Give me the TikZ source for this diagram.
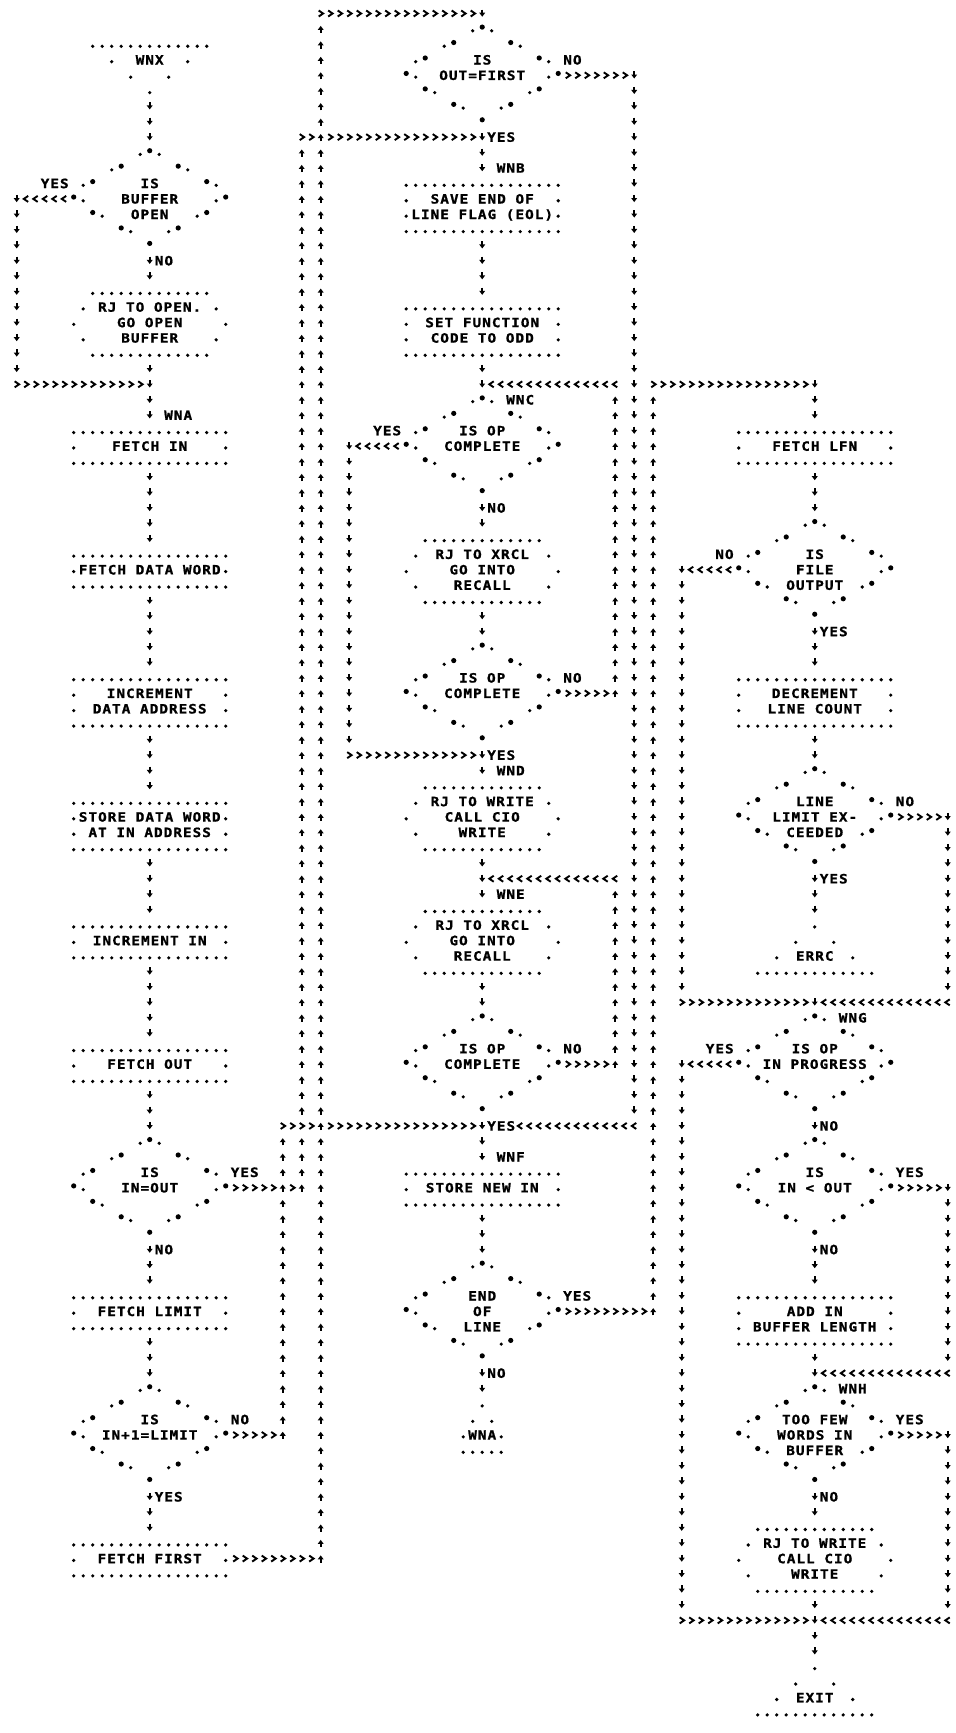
\documentclass[tikz,border=0pt]{standalone}
\usepackage{fontspec}
\newfontfamily\prt[FakeStretch=1.12,LetterSpace=8,FakeBold=1.2]{DejaVu Sans Mono}
\usetikzlibrary{decorations.markings}

\newcommand\fcPd[2]{\fill ({#1},{#2+0.12}) circle (0.9pt);}
\newcommand\fcSd[2]{\fill ({#1},{#2-0.12}) circle (1.3pt);}
\newcommand\fcVg{\fill (1.6pt,0pt) -- (-0.4pt,1.5pt) -- (-0.4pt,-1.5pt) -- cycle; \draw[line width=0.9pt] (-2.0pt,0pt) -- (0pt,0pt);}
\newcommand\fcHg{\draw[line width=0.95pt] (-1.0pt,1.5pt) -- (1.2pt,0pt) -- (-1.0pt,-1.5pt);}

% diamond: name, centre col, top row
\newcommand\fcDia[3]{%
 \node[shp, minimum width=76pt, minimum height=46.35pt] (#1) at ({#2},{#3+3}) {};
 \fcPd{#2-1}{#3}\fcSd{#2}{#3}\fcPd{#2+1}{#3}
 \fcPd{#2-4}{#3+1}\fcSd{#2-3}{#3+1}\fcSd{#2+3}{#3+1}\fcPd{#2+4}{#3+1}
 \fcPd{#2-7}{#3+2}\fcSd{#2-6}{#3+2}\fcSd{#2+6}{#3+2}\fcPd{#2+7}{#3+2}
 \fcSd{#2-8}{#3+3}\fcPd{#2-7}{#3+3}\fcPd{#2+7}{#3+3}\fcSd{#2+8}{#3+3}
 \fcSd{#2-6}{#3+4}\fcPd{#2-5}{#3+4}\fcPd{#2+5}{#3+4}\fcSd{#2+6}{#3+4}
 \fcSd{#2-3}{#3+5}\fcPd{#2-2}{#3+5}\fcPd{#2+2}{#3+5}\fcSd{#2+3}{#3+5}
 \fcSd{#2}{#3+6}}
% box: name, centre col, top row, height in rows
\newcommand\fcBox[4]{%
 \node[shp, minimum width=76pt, minimum height={#4*7.725pt}] (#1) at ({#2},{#3+#4/2}) {};
 \foreach \i in {-8,...,8}{\fcPd{#2+\i}{#3}\fcPd{#2+\i}{#3+#4}}
 \pgfmathtruncatemacro\fcbh{#4-1}
 \foreach \j in {1,...,\fcbh}{\fcPd{#2-8}{#3+\j}\fcPd{#2+8}{#3+\j}}}
% hexagon (subroutine call): name, centre col, top row
\newcommand\fcHex[3]{%
 \node[shp, minimum width=76pt, minimum height=30.9pt] (#1) at ({#2},{#3+2}) {};
 \foreach \i in {-6,...,6}{\fcPd{#2+\i}{#3}\fcPd{#2+\i}{#3+4}}
 \fcPd{#2-7}{#3+1}\fcPd{#2+7}{#3+1}\fcPd{#2-8}{#3+2}\fcPd{#2+8}{#3+2}\fcPd{#2-7}{#3+3}\fcPd{#2+7}{#3+3}}
% entry triangle (base on top)
\newcommand\fcTdn[3]{%
 \node[shp, minimum width=57pt, minimum height=23.175pt] (#1) at ({#2},{#3+1.5}) {};
 \foreach \i in {-6,...,6}{\fcPd{#2+\i}{#3}}
 \fcPd{#2-4}{#3+1}\fcPd{#2+4}{#3+1}\fcPd{#2-2}{#3+2}\fcPd{#2+2}{#3+2}\fcPd{#2}{#3+3}}
% exit triangle (apex on top)
\newcommand\fcTup[3]{%
 \node[shp, minimum width=57pt, minimum height=23.175pt] (#1) at ({#2},{#3+1.5}) {};
 \fcPd{#2}{#3}\fcPd{#2-2}{#3+1}\fcPd{#2+2}{#3+1}\fcPd{#2-4}{#3+2}\fcPd{#2+4}{#3+2}
 \foreach \i in {-6,...,6}{\fcPd{#2+\i}{#3+3}}}
% small exit triangle
\newcommand\fcTsm[3]{%
 \node[shp, minimum width=19pt, minimum height=23.175pt] (#1) at ({#2},{#3+1.5}) {};
 \fcPd{#2}{#3}\fcPd{#2-1}{#3+1}\fcPd{#2+1}{#3+1}\fcPd{#2-2}{#3+2}\fcPd{#2+2}{#3+2}
 \foreach \i in {-2,...,2}{\fcPd{#2+\i}{#3+3}}}

\tikzset{
 shp/.style={rectangle, inner sep=0pt, outer sep=0pt, draw=none},
 txt/.style={font=\prt\bfseries\fontsize{6.4pt}{7.7pt}\selectfont, inner sep=0pt, text height=4.65pt, text depth=0pt, anchor=center},
 vch/.style 2 args={decorate, decoration={markings, mark=between positions #1 and #2 step 7.724pt with {\fcVg}}},
 hch/.style 2 args={decorate, decoration={markings, mark=between positions #1 and #2 step 4.7495pt with {\fcHg}}},
 cv0/.style={vch={0pt}{-3pt}},
 cv1/.style={vch={7.724pt}{-3pt}},
 ch0/.style={hch={0pt}{-2pt}},
 ch1/.style={hch={4.7495pt}{-2pt}},
}

\begin{document}
\begin{tikzpicture}[x=4.75pt, y=-7.725pt]
\fill[white] (-1.758,-0.874) rectangle (98.77,111.29);
\useasboundingbox (-1.758,-0.874) rectangle (98.77,111.29);

% ================= LEFT COLUMN =================
\fcTdn{tWNX}{14}{2}
\node[txt] (xWNX) at (14,3) {WNX};
\fcDia{d1}{14}{9}
\node[txt] (x1a) at (14,11) {IS};
\node[txt] (x1b) at (14,12) {BUFFER};
\node[txt] (x1c) at (14,13) {OPEN};
\fcHex{h1}{14}{18}
\node[txt] (x2a) at (14,19) {RJ TO OPEN.};
\node[txt] (x2b) at (14,20) {GO OPEN};
\node[txt] (x2c) at (14,21) {BUFFER};
\fcBox{b2}{14}{27}{2}
\node[txt] (x3) at (14,28) {FETCH IN};
\fcBox{b3}{14}{35}{2}
\node[txt] (x4) at (14,36) {FETCH DATA WORD};
\fcBox{b4}{14}{43}{3}
\node[txt] (x5a) at (14,44) {INCREMENT};
\node[txt] (x5b) at (14,45) {DATA ADDRESS};
\fcBox{b5}{14}{51}{3}
\node[txt] (x6a) at (14,52) {STORE DATA WORD};
\node[txt] (x6b) at (14,53) {AT IN ADDRESS};
\fcBox{b6}{14}{59}{2}
\node[txt] (x7) at (14,60) {INCREMENT IN};
\fcBox{b7}{14}{67}{2}
\node[txt] (x8) at (14,68) {FETCH OUT};
\fcDia{d2}{14}{73}
\node[txt] (x9a) at (14,75) {IS};
\node[txt] (x9b) at (14,76) {IN=OUT};
\fcBox{b8}{14}{83}{2}
\node[txt] (x10) at (14,84) {FETCH LIMIT};
\fcDia{d3}{14}{89}
\node[txt] (x11a) at (14,91) {IS};
\node[txt] (x11b) at (14,92) {IN+1=LIMIT};
\fcBox{b9}{14}{99}{2}
\node[txt] (x12) at (14,100) {FETCH FIRST};

% ================= MIDDLE COLUMN =================
\fcDia{d4}{49}{1}
\node[txt] (x13a) at (49,3) {IS};
\node[txt] (x13b) at (49,4) {OUT=FIRST};
\fcBox{b10}{49}{11}{3}
\node[txt] (x14a) at (49,12) {SAVE END OF};
\node[txt] (x14b) at (49,13) {LINE FLAG (EOL)};
\fcBox{b11}{49}{19}{3}
\node[txt] (x15a) at (49,20) {SET FUNCTION};
\node[txt] (x15b) at (49,21) {CODE TO ODD};
\fcDia{d5}{49}{25}
\node[txt] (x16a) at (49,27) {IS OP};
\node[txt] (x16b) at (49,28) {COMPLETE};
\fcHex{h2}{49}{34}
\node[txt] (x17a) at (49,35) {RJ TO XRCL};
\node[txt] (x17b) at (49,36) {GO INTO};
\node[txt] (x17c) at (49,37) {RECALL};
\fcDia{d6}{49}{41}
\node[txt] (x18a) at (49,43) {IS OP};
\node[txt] (x18b) at (49,44) {COMPLETE};
\fcHex{h3}{49}{50}
\node[txt] (x19a) at (49,51) {RJ TO WRITE};
\node[txt] (x19b) at (49,52) {CALL CIO};
\node[txt] (x19c) at (49,53) {WRITE};
\fcHex{h4}{49}{58}
\node[txt] (x20a) at (49,59) {RJ TO XRCL};
\node[txt] (x20b) at (49,60) {GO INTO};
\node[txt] (x20c) at (49,61) {RECALL};
\fcDia{d7}{49}{65}
\node[txt] (x21a) at (49,67) {IS OP};
\node[txt] (x21b) at (49,68) {COMPLETE};
\fcBox{b12}{49}{75}{2}
\node[txt] (x22) at (49,76) {STORE NEW IN};
\fcDia{d8}{49}{81}
\node[txt] (x23a) at (49,83) {END};
\node[txt] (x23b) at (49,84) {OF};
\node[txt] (x23c) at (49,85) {LINE};
\fcTsm{tWNA}{49}{90}
\node[txt] (xWNA) at (49,92) {WNA};

% ================= RIGHT COLUMN =================
\fcBox{b13}{84}{27}{2}
\node[txt] (x24) at (84,28) {FETCH LFN};
\fcDia{d9}{84}{33}
\node[txt] (x25a) at (84,35) {IS};
\node[txt] (x25b) at (84,36) {FILE};
\node[txt] (x25c) at (84,37) {OUTPUT};
\fcBox{b14}{84}{43}{3}
\node[txt] (x26a) at (84,44) {DECREMENT};
\node[txt] (x26b) at (84,45) {LINE COUNT};
\fcDia{d10}{84}{49}
\node[txt] (x27a) at (84,51) {LINE};
\node[txt] (x27b) at (84,52) {LIMIT EX-};
\node[txt] (x27c) at (84,53) {CEEDED};
\fcTup{tERRC}{84}{59}
\node[txt] (xERRC) at (84,61) {ERRC};
\fcDia{d11}{84}{65}
\node[txt] (x28a) at (84,67) {IS OP};
\node[txt] (x28b) at (84,68) {IN PROGRESS};
\fcDia{d12}{84}{73}
\node[txt] (x29a) at (84,75) {IS};
\node[txt] (x29b) at (84,76) {IN < OUT};
\fcBox{b15}{84}{83}{3}
\node[txt] (x30a) at (84,84) {ADD IN};
\node[txt] (x30b) at (84,85) {BUFFER LENGTH};
\fcDia{d13}{84}{89}
\node[txt] (x31a) at (84,91) {TOO FEW};
\node[txt] (x31b) at (84,92) {WORDS IN};
\node[txt] (x31c) at (84,93) {BUFFER};
\fcHex{h5}{84}{98}
\node[txt] (x32a) at (84,99) {RJ TO WRITE};
\node[txt] (x32b) at (84,100) {CALL CIO};
\node[txt] (x32c) at (84,101) {WRITE};
\fcTup{tEXIT}{84}{107}
\node[txt] (xEXIT) at (84,109) {EXIT};

% ================= LABELS =================
\node[txt] (l1) at (4,11) {YES};
\node[txt] (l2) at (15.5,16) {NO};
\node[txt] (l3) at (17,26) {WNA};
\node[txt] (l4) at (24,75) {YES};
\node[txt] (l5) at (15.5,80) {NO};
\node[txt] (l6) at (23.5,91) {NO};
\node[txt] (l7) at (16,96) {YES};
\node[txt] (l8) at (58.5,3) {NO};
\node[txt] (l9) at (51,8) {YES};
\node[txt] (l10) at (52,10) {WNB};
\node[txt] (l11) at (53,25) {WNC};
\node[txt] (l12) at (39,27) {YES};
\node[txt] (l13) at (50.5,32) {NO};
\node[txt] (l14) at (58.5,43) {NO};
\node[txt] (l15) at (51,48) {YES};
\node[txt] (l16) at (52,49) {WND};
\node[txt] (l17) at (52,57) {WNE};
\node[txt] (l18) at (58.5,67) {NO};
\node[txt] (l19) at (51,72) {YES};
\node[txt] (l20) at (52,74) {WNF};
\node[txt] (l21) at (59,83) {YES};
\node[txt] (l22) at (50.5,88) {NO};
\node[txt] (l23) at (74.5,35) {NO};
\node[txt] (l24) at (86,40) {YES};
\node[txt] (l25) at (93.5,51) {NO};
\node[txt] (l26) at (86,56) {YES};
\node[txt] (l27) at (88,65) {WNG};
\node[txt] (l28) at (74,67) {YES};
\node[txt] (l29) at (85.5,72) {NO};
\node[txt] (l30) at (94,75) {YES};
\node[txt] (l31) at (85.5,80) {NO};
\node[txt] (l32) at (88,89) {WNH};
\node[txt] (l33) at (94,91) {YES};
\node[txt] (l34) at (85.5,96) {NO};

% ================= CONNECTORS: LEFT =================
\path[cv1] (tWNX.south) -- (d1.north);
\coordinate (k1) at (0,12); \coordinate (k2) at (0,24); \coordinate (k3) at (14,24);
\path[ch1] (d1.west) -- (k1);
\path[cv0] (k1) -- (k2);
\path[ch0] (k2) -- (k3);
\path[cv1] (d1.south) -- (h1.north);
\path[cv1] (h1.south) -- (b2.north);
\path[cv1] (b2.south) -- (b3.north);
\path[cv1] (b3.south) -- (b4.north);
\path[cv1] (b4.south) -- (b5.north);
\path[cv1] (b5.south) -- (b6.north);
\path[cv1] (b6.south) -- (b7.north);
\path[cv1] (b7.south) -- (d2.north);
\path[cv1] (d2.south) -- (b8.north);
\path[cv1] (b8.south) -- (d3.north);
\path[cv1] (d3.south) -- (b9.north);
% IN=OUT yes -> WNB
\coordinate (q1) at (28,76); \coordinate (q2) at (30,76); \coordinate (q3) at (30,72);
\coordinate (q4) at (30,8); \coordinate (q5) at (32,8); \coordinate (q6) at (49,8);
\path[ch1] (d2.east) -- (q1);
\path[ch1] (q1) -- (q2);
\path[cv0] (q2) -- (q3);
\path[cv1] (q3) -- (q4);
\path[ch0] (q4) -- (q5);
\path[ch1] (q5) -- (q6);
% IN+1=LIMIT no -> WNF
\coordinate (p1) at (28,92); \coordinate (p2) at (28,72); \coordinate (p3) at (32,72); \coordinate (p4) at (49,72);
\path[ch1] (d3.east) -- (p1);
\path[cv0] (p1) -- (p2);
\path[ch0] (p2) -- (p3);
\path[ch1] (p3) -- (p4);
% FETCH FIRST -> OUT=FIRST
\coordinate (f1) at (32,100); \coordinate (f2) at (32,0); \coordinate (f3) at (49,0);
\path[ch1] (b9.east) -- (f1);
\path[cv0] (f1) -- (f2);
\path[ch0] (f2) -- (f3);
\path[cv0] (f3) -- (d4.north);

% ================= CONNECTORS: MIDDLE =================
\path[cv1] (d4.south) -- (b10.north);
\path[cv1] (b10.south) -- (b11.north);
\path[cv1] (b11.south) -- (d5.north);
% OUT=FIRST no -> WNF
\coordinate (g1) at (65,4); \coordinate (g2) at (65,72);
\path[ch1] (d4.east) -- (g1);
\path[cv0] (g1) -- (g2);
\path[hch={0pt}{-16pt}] (g2) -- (p4);
% WNC yes -> WND
\coordinate (w1) at (35,28); \coordinate (w2) at (35,48); \coordinate (w3) at (49,48);
\path[ch1] (d5.west) -- (w1);
\path[cv0] (w1) -- (w2);
\path[ch0] (w2) -- (w3);
\path[cv1] (d5.south) -- (h2.north);
\path[cv1] (h2.south) -- (d6.north);
% complete no -> WNC
\coordinate (e1) at (63,44); \coordinate (e2) at (63,24); \coordinate (e3) at (49,24);
\path[ch1] (d6.east) -- (e1);
\path[cv0] (e1) -- (e2);
\path[ch0] (e2) -- (e3);
\path[cv1] (d6.south) -- (h3.north);
\path[cv1] (h3.south) -- (h4.north);
\path[cv1] (h4.south) -- (d7.north);
% complete no -> WNE
\coordinate (e4) at (63,68); \coordinate (e5) at (63,56); \coordinate (e6) at (49,56);
\path[ch1] (d7.east) -- (e4);
\path[cv0] (e4) -- (e5);
\path[ch0] (e5) -- (e6);
\path[cv1] (d7.south) -- (b12.north);
\path[cv1] (b12.south) -- (d8.north);
% end of line yes -> FETCH LFN
\coordinate (u1) at (67,84); \coordinate (u2) at (67,24); \coordinate (u3) at (84,24);
\path[ch1] (d8.east) -- (u1);
\path[cv0] (u1) -- (u2);
\path[ch0] (u2) -- (u3);
\path[cv0] (u3) -- (b13.north);
\path[cv1] (d8.south) -- (tWNA.north);

% ================= CONNECTORS: RIGHT =================
\path[cv1] (b13.south) -- (d9.north);
\coordinate (n1) at (70,36); \coordinate (n2) at (70,64); \coordinate (n3) at (84,64);
\path[ch1] (d9.west) -- (n1);
\path[cv0] (n1) -- (n2);
\path[ch0] (n2) -- (n3);
\path[cv1] (d9.south) -- (b14.north);
\path[cv1] (b14.south) -- (d10.north);
\coordinate (m1) at (98,52); \coordinate (m2) at (98,64);
\path[ch1] (d10.east) -- (m1);
\path[cv0] (m1) -- (m2);
\path[ch0] (m2) -- (n3);
\path[cv1] (d10.south) -- (tERRC.north);
\path[cv0] (n3) -- (d11.north);
\coordinate (n4) at (70,68); \coordinate (n5) at (70,104); \coordinate (n6) at (84,104);
\path[ch1] (d11.west) -- (n4);
\path[cv0] (n4) -- (n5);
\path[ch0] (n5) -- (n6);
\path[cv1] (d11.south) -- (d12.north);
\coordinate (m3) at (98,76); \coordinate (m4) at (98,88); \coordinate (m5) at (84,88);
\path[ch1] (d12.east) -- (m3);
\path[cv0] (m3) -- (m4);
\path[ch0] (m4) -- (m5);
\path[cv1] (d12.south) -- (b15.north);
\path[cv1] (b15.south) -- (d13.north);
\coordinate (m6) at (98,92); \coordinate (m7) at (98,104);
\path[ch1] (d13.east) -- (m6);
\path[cv0] (m6) -- (m7);
\path[ch0] (m7) -- (n6);
\path[cv1] (d13.south) -- (h5.north);
\path[cv1] (h5.south) -- (tEXIT.north);
\end{tikzpicture}
\end{document}
